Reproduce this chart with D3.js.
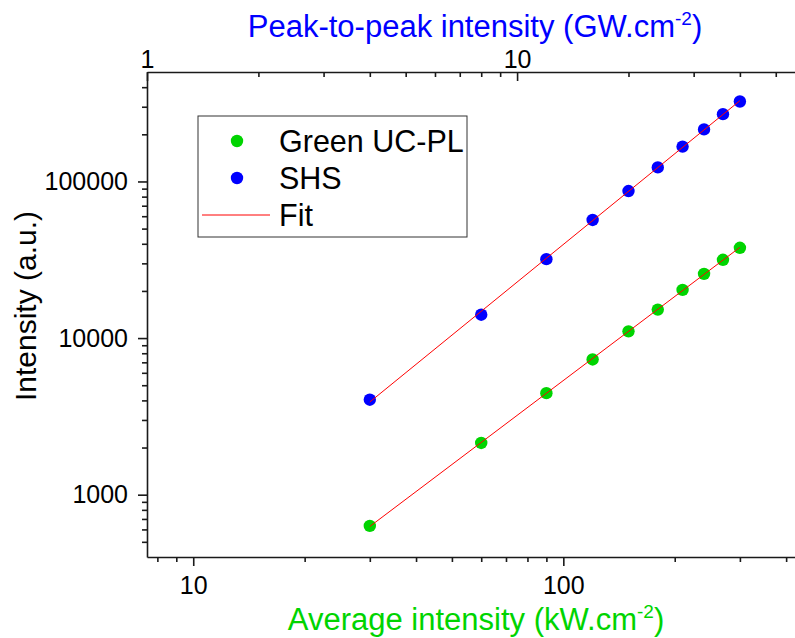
<!DOCTYPE html>
<html lang="en">
<head>
  <meta charset="UTF-8">
  <title>Intensity vs average intensity</title>
  <script src="https://cdn.jsdelivr.net/npm/d3@7"></script>
  <style>
    body {
      margin: 0;
      background: #fff;
      overflow: hidden;
    }

    #chart text {
      font-family: "Liberation Sans", Arial, sans-serif;
    }
  </style>
</head>
<body>
<svg id="chart" width="795" height="638"></svg>
<script>
  // data
  const avgIntensity = [30, 60, 90, 120, 150, 180, 210, 240, 270, 300];
  const greenPL = [632, 2140, 4450, 7300, 11040, 15200, 20300, 25700, 31600, 37700];
  const shs = [4040, 14100, 31900, 56800, 86900, 123000, 167000, 215000, 269000, 324000];

  const xMajor = [10, 100];
  const xMinor = [8, 9, 20, 30, 40, 50, 60, 70, 80, 90, 200, 300, 400];
  const topMajor = [1, 10];
  const topMinor = [2, 3, 4, 5, 6, 7, 8, 9, 20, 30, 40, 50, 60];
  const yMajor = [1000, 10000, 100000];
  const yMinor = [500, 600, 700, 800, 900, 2000, 3000, 4000, 5000, 6000, 7000, 8000, 9000,
    20000, 30000, 40000, 50000, 60000, 70000, 80000, 90000, 200000, 300000, 400000];
  const legendLabels = ["Green UC-PL", "SHS", "Fit"];

  const green = "#00d400", blue = "#0000ff", red = "#ff0000";

  const svg = d3.select("#chart");

  let x = d3.scaleLog().domain([7.5, 500]).range([147, 822]);
  let xTop = d3.scaleLog().domain([1, 500 / 7.5]).range([147, 822]);
  let y = d3.scaleLog().domain([400, 500000]).range([557, 72]);

  // axes (minor ticks first, then the major axis with its domain line)
  let bottomAxis = svg.append("g").attr("transform", "translate(0,557)");
  bottomAxis.append("g").attr("class", "minor")
      .call(d3.axisBottom(x).tickValues(xMinor).tickSize(5).tickFormat(""));
  bottomAxis.append("g")
      .call(d3.axisBottom(x).tickValues(xMajor).tickSize(9).tickSizeOuter(0).tickPadding(10).tickFormat(d3.format("d")));

  let topAxis = svg.append("g").attr("transform", "translate(0,72)");
  topAxis.append("g").attr("class", "minor")
      .call(d3.axisTop(xTop).tickValues(topMinor).tickSize(-5).tickFormat(""));
  topAxis.append("g")
      .call(d3.axisTop(xTop).tickValues(topMajor).tickSize(-9).tickSizeOuter(0).tickPadding(4).tickFormat(d3.format("d")));

  let leftAxis = svg.append("g").attr("transform", "translate(147,0)");
  leftAxis.append("g").attr("class", "minor")
      .call(d3.axisLeft(y).tickValues(yMinor).tickSize(5).tickFormat(""));
  leftAxis.append("g")
      .call(d3.axisLeft(y).tickValues(yMajor).tickSize(9).tickSizeOuter(0).tickPadding(10).tickFormat(d3.format("d")));

  svg.selectAll(".minor .domain").remove();
  svg.selectAll(".domain").attr("stroke", "#1a1a1a").attr("stroke-width", 1.6);
  svg.selectAll(".tick line").attr("stroke", "#1a1a1a").attr("stroke-width", 1.6);
  svg.selectAll(".tick text").attr("font-size", 25).attr("fill", "#000");

  // fit lines: least squares in log-log space
  function fit(xs, ys) {
    let lx = xs.map(Math.log10), ly = ys.map(Math.log10);
    let mx = d3.mean(lx), my = d3.mean(ly);
    let b = d3.sum(lx, (v, i) => (v - mx) * (ly[i] - my)) / d3.sum(lx, v => (v - mx) * (v - mx));
    let a = my - b * mx;
    let x0 = d3.min(xs), x1 = d3.max(xs);
    return [[x0, Math.pow(10, a + b * Math.log10(x0))], [x1, Math.pow(10, a + b * Math.log10(x1))]];
  }

  let line = d3.line().x(d => x(d[0])).y(d => y(d[1]));

  let series = [
    {name: legendLabels[0], values: greenPL, color: green},
    {name: legendLabels[1], values: shs, color: blue}
  ];

  series.forEach(s => {
    svg.append("g")
        .selectAll("circle")
        .data(avgIntensity)
        .join("circle")
        .attr("cx", d => x(d))
        .attr("cy", (d, i) => y(s.values[i]))
        .attr("r", 6.2)
        .attr("fill", s.color);
  });

  series.forEach(s => {
    svg.append("path")
        .attr("d", line(fit(avgIntensity, s.values)))
        .attr("fill", "none")
        .attr("stroke", red)
        .attr("stroke-width", 1);
  });

  // titles
  let topTitle = svg.append("text")
      .attr("x", 475).attr("y", 37)
      .attr("text-anchor", "middle")
      .attr("font-size", 31)
      .attr("fill", blue);
  topTitle.append("tspan").text("Peak-to-peak intensity (GW.cm");
  topTitle.append("tspan").text("-2").attr("font-size", 19).attr("dy", -12);
  topTitle.append("tspan").text(")").attr("dy", 12);

  let bottomTitle = svg.append("text")
      .attr("x", 476).attr("y", 630)
      .attr("text-anchor", "middle")
      .attr("font-size", 31)
      .attr("fill", green);
  bottomTitle.append("tspan").text("Average intensity (kW.cm");
  bottomTitle.append("tspan").text("-2").attr("font-size", 19).attr("dy", -12);
  bottomTitle.append("tspan").text(")").attr("dy", 12);

  svg.append("text")
      .attr("transform", "translate(36,306) rotate(-90)")
      .attr("text-anchor", "middle")
      .attr("font-size", 30)
      .attr("fill", "#000")
      .text("Intensity (a.u.)");

  // legend
  let legend = svg.append("g");
  legend.append("rect")
      .attr("x", 198).attr("y", 116)
      .attr("width", 269).attr("height", 121)
      .attr("fill", "#fff")
      .attr("stroke", "#333")
      .attr("stroke-width", 1);

  let rows = [
    {label: legendLabels[0], color: green, kind: "dot"},
    {label: legendLabels[1], color: blue, kind: "dot"},
    {label: legendLabels[2], color: red, kind: "line"}
  ];

  rows.forEach((r, i) => {
    let cy = 141 + i * 37;
    if (r.kind === "dot") {
      legend.append("circle").attr("cx", 237).attr("cy", cy).attr("r", 6.2).attr("fill", r.color);
    } else {
      legend.append("line")
          .attr("x1", 202).attr("x2", 270)
          .attr("y1", cy).attr("y2", cy)
          .attr("stroke", r.color).attr("stroke-width", 1);
    }
    legend.append("text")
        .attr("x", 279).attr("y", cy + 11)
        .attr("font-size", 30.5)
        .attr("fill", "#000")
        .text(r.label);
  });
</script>
</body>
</html>
